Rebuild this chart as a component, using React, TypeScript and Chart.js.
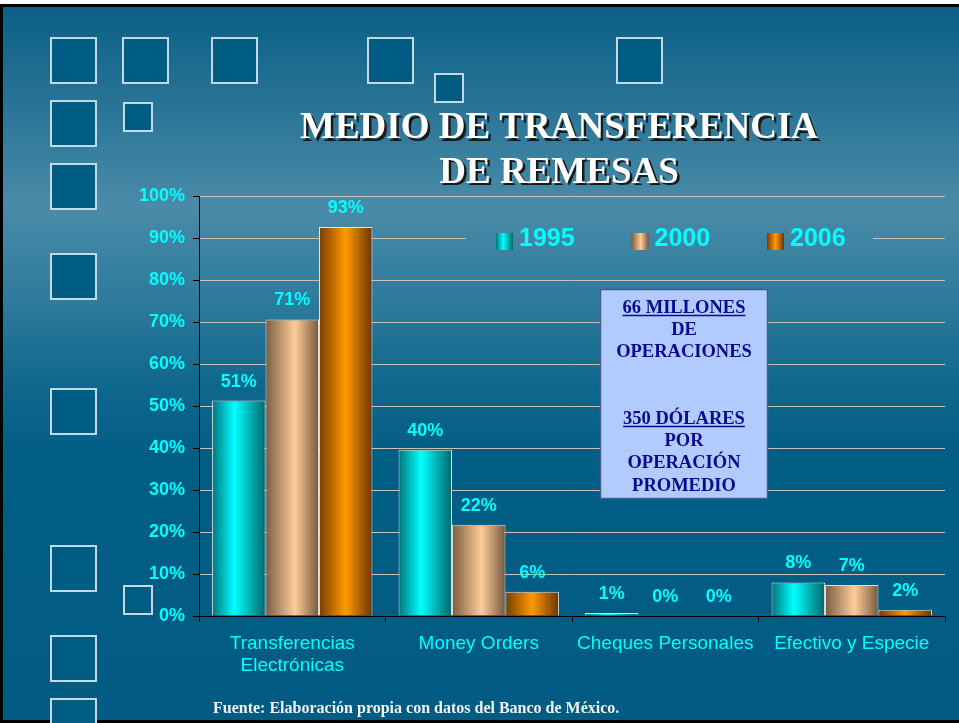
import React, { useEffect, useRef } from "react";
import { Chart, registerables } from "chart.js";

Chart.register(...registerables);

// ---------- data ----------
const categories: (string | string[])[] = [
  ["Transferencias", "Electrónicas"],
  "Money Orders",
  "Cheques Personales",
  "Efectivo y Especie",
];
const seriesNames = ["1995", "2000", "2006"];
const values1995 = [51.3, 39.6, 0.7, 8.0];
const values2000 = [70.6, 21.7, 0.1, 7.4];
const values2006 = [92.6, 5.8, 0, 1.5];
const seriesValues = [values1995, values2000, values2006];
const yMin = 0;
const yMax = 100;
const yStep = 10;

const titleLines = ["MEDIO DE TRANSFERENCIA", "DE REMESAS"];
const noteLines = [
  "66 MILLONES",
  "DE",
  "OPERACIONES",
  "",
  "",
  "350 DÓLARES",
  "POR",
  "OPERACIÓN",
  "PROMEDIO",
];
const noteUnderlined = ["66 MILLONES", "350 DÓLARES"];
const footerText = "Fuente: Elaboración propia con datos del Banco de México.";

// ---------- styles ----------
const SANS = '"Liberation Sans", Arial, Helvetica, sans-serif';
const SERIF = '"Liberation Serif", "Times New Roman", Times, serif';
const CYAN = "#00ffff";
const barStops: [number, string][][] = [
  [[0, "#00767c"], [0.42, "#00ffff"], [1, "#00666c"]],
  [[0, "#7a5c42"], [0.55, "#ffcc99"], [1, "#76583e"]],
  [[0, "#7a3c00"], [0.5, "#ff9900"], [1, "#6a3400"]],
];
const solidColors = ["#00e0e0", "#e8b888", "#e88a00"];
const CAT_PCT = 0.86;

const squares: [number, number, number][] = [
  [50, 37, 47], [122, 37, 47], [211, 37, 47], [367, 37, 47], [616, 37, 47], [434, 73, 30],
  [50, 100, 47], [123, 102, 30],
  [50, 163, 47], [50, 253, 47], [50, 388, 47], [50, 545, 47], [123, 585, 30],
  [50, 635, 47], [50, 698, 47],
];

function bgGradient(ctx: CanvasRenderingContext2D) {
  const g = ctx.createLinearGradient(0, 7, 0, 720);
  g.addColorStop(0, "#0b5f87");
  g.addColorStop(0.144, "#2a7597");
  g.addColorStop(0.278, "#4a8ba8");
  g.addColorStop(0.412, "#2e7b9c");
  g.addColorStop(0.524, "#11688d");
  g.addColorStop(0.623, "#035e85");
  g.addColorStop(1, "#015b82");
  return g;
}

function hGradient(ctx: CanvasRenderingContext2D, x0: number, x1: number, i: number) {
  const g = ctx.createLinearGradient(x0, 0, x1, 0);
  barStops[i].forEach(([o, c]) => g.addColorStop(o, c));
  return g;
}

function barGradient(c: any, i: number) {
  const chart = c.chart;
  const xs = chart.scales && chart.scales.x;
  if (!xs || c.type !== "data" || !xs.width) return solidColors[i];
  const n = categories.length;
  const w = ((xs.width / n) * CAT_PCT) / seriesNames.length;
  const cx = xs.getPixelForValue(c.dataIndex) + (i - 1) * w;
  return hGradient(chart.ctx, cx - w / 2, cx + w / 2, i);
}

const decorPlugin = {
  id: "decor",
  beforeDraw(chart: any) {
    const ctx: CanvasRenderingContext2D = chart.ctx;
    const W = chart.width;
    const H = chart.height;
    ctx.save();
    ctx.fillStyle = "#ffffff";
    ctx.fillRect(0, 0, W, H);
    ctx.fillStyle = "#000000";
    ctx.fillRect(0, 4, W, H - 4);
    ctx.fillStyle = bgGradient(ctx);
    ctx.fillRect(3, 7, W - 3, 713);

    // decorative squares
    squares.forEach(([x, y, s]) => {
      ctx.fillStyle = "#015c83";
      ctx.fillRect(x, y, s, s);
      ctx.strokeStyle = "rgba(215,232,240,0.9)";
      ctx.lineWidth = 2;
      ctx.strokeRect(x + 1, y + 1, s - 2, s - 2);
    });

    // title
    ctx.font = `bold 37px ${SERIF}`;
    ctx.textAlign = "center";
    ctx.textBaseline = "alphabetic";
    const tBase = [138, 182.5];
    titleLines.forEach((t, k) => {
      ctx.fillStyle = "#1a1a1a";
      ctx.fillText(t, 559 + 2.5, tBase[k] + 2.5);
      ctx.fillStyle = "#ffffff";
      ctx.fillText(t, 559, tBase[k]);
    });

    // footer
    ctx.font = `bold 16px ${SERIF}`;
    ctx.textAlign = "left";
    ctx.fillStyle = "#f2f2f2";
    ctx.fillText(footerText, 213, 713);
    ctx.restore();
  },
  afterDatasetsDraw(chart: any) {
    const ctx: CanvasRenderingContext2D = chart.ctx;
    ctx.save();
    // data labels
    ctx.font = `bold 18px ${SANS}`;
    ctx.fillStyle = CYAN;
    ctx.textAlign = "center";
    ctx.textBaseline = "alphabetic";
    chart.data.datasets.forEach((ds: any, i: number) => {
      const meta = chart.getDatasetMeta(i);
      meta.data.forEach((el: any, j: number) => {
        const v = ds.data[j] as number;
        ctx.fillText(Math.round(v) + "%", el.x, el.y - 14);
      });
    });

    // legend (custom, inside the plot)
    ctx.fillStyle = bgGradient(ctx);
    ctx.fillRect(466, 222, 407, 34);
    seriesNames.forEach((name, i) => {
      const x = 496 + i * 135.5;
      ctx.fillStyle = hGradient(ctx, x, x + 17, i);
      ctx.fillRect(x, 233, 17, 17);
      ctx.font = `bold 25px ${SANS}`;
      ctx.fillStyle = CYAN;
      ctx.textAlign = "left";
      ctx.fillText(name, x + 23, 246);
    });

    // note box
    const bx = 600, by = 289, bw = 168, bh = 210;
    ctx.fillStyle = "#b1cbff";
    ctx.fillRect(bx, by, bw, bh);
    ctx.strokeStyle = "#3c5f8f";
    ctx.lineWidth = 1.5;
    ctx.strokeRect(bx + 0.5, by + 0.5, bw - 1, bh - 1);
    ctx.font = `bold 18.5px ${SERIF}`;
    ctx.fillStyle = "#0a0a8c";
    ctx.strokeStyle = "#0a0a8c";
    ctx.textAlign = "center";
    const cx = bx + bw / 2;
    noteLines.forEach((t, k) => {
      if (!t) return;
      const y = 313 + k * 22.2;
      ctx.fillText(t, cx, y);
      if (noteUnderlined.includes(t)) {
        const w = ctx.measureText(t).width;
        ctx.lineWidth = 1.5;
        ctx.beginPath();
        ctx.moveTo(cx - w / 2, y + 2.5);
        ctx.lineTo(cx + w / 2, y + 2.5);
        ctx.stroke();
      }
    });
    ctx.restore();
  },
};

export default function App() {
  const ref = useRef<HTMLCanvasElement>(null);
  useEffect(() => {
    document.body.style.margin = "0";
    document.body.style.overflow = "hidden";
    const canvas = ref.current!;
    const chart = new Chart(canvas, {
      type: "bar",
      data: {
        labels: categories as any,
        datasets: seriesNames.map((name, i) => ({
          label: name,
          data: seriesValues[i],
          backgroundColor: (c: any) => barGradient(c, i),
          borderColor: "rgba(255,246,236,0.85)",
          borderWidth: 1,
          categoryPercentage: CAT_PCT,
          barPercentage: 1,
        })),
      },
      options: {
        animation: false,
        responsive: false,
        devicePixelRatio: 1,
        layout: { padding: { top: 196, right: 14, left: 0, bottom: 0 } },
        plugins: {
          legend: { display: false },
          title: { display: false },
          tooltip: { enabled: false },
        },
        scales: {
          x: {
            offset: true,
            grid: {
              display: true,
              offset: true,
              drawOnChartArea: false,
              drawTicks: true,
              tickLength: 6,
              color: "#000",
              tickColor: "#000",
            },
            border: { display: true, color: "#000", width: 1 },
            ticks: {
              color: CYAN,
              font: { family: SANS, size: 19 },
              padding: 10,
              maxRotation: 0,
              autoSkip: false,
            },
            afterFit: (s: any) => {
              s.height = 107;
            },
          },
          y: {
            min: yMin,
            max: yMax,
            ticks: {
              stepSize: yStep,
              callback: (v: any) => v + "%",
              color: CYAN,
              font: { family: SANS, size: 18, weight: "bold" },
              padding: 8,
            },
            grid: {
              color: (c: any) => (c.tick && c.tick.value === 0 ? "#000" : "#c9c1b5"),
              tickColor: "#000",
              tickLength: 6,
              lineWidth: 1,
            },
            border: { display: true, color: "#000", width: 1 },
            afterFit: (s: any) => {
              s.width = 199;
            },
          },
        },
      } as any,
      plugins: [decorPlugin],
    });
    return () => chart.destroy();
  }, []);
  return (
    <canvas
      ref={ref}
      width={959}
      height={723}
      style={{ display: "block", width: 959, height: 723 }}
    />
  );
}
